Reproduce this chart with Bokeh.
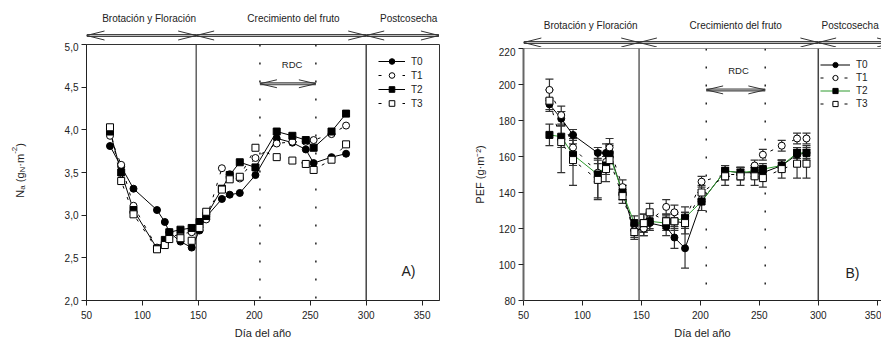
import numpy as np
from bokeh.plotting import figure
from bokeh.models import (Range1d, FixedTicker, Span, Legend, LegendItem, Whisker,
                          TeeHead, ColumnDataSource, Div)
from bokeh.layouts import row, column
from bokeh.embed import file_html
from bokeh.resources import INLINE
from bokeh.core.properties import value

FONT = "Liberation Sans"
TXT = "#222222"

# ---------------- data ----------------
day_ticks = [50, 100, 150, 200, 250, 300, 350]

phase_names = ["Brotación y Floración", "Crecimiento del fruto", "Postcosecha"]
phase_edges = [50, 148, 300, 365]
rdc_edges = [205, 255]

# panel A : Na (gN m-2)
na_days = [71, 81, 92, 113, 120, 124, 134, 144, 151, 157, 171, 178, 187, 201, 220, 234, 246, 253, 269, 282]
na_T0 = [3.81, 3.57, 3.31, 3.06, 2.92, 2.80, 2.69, 2.62, 2.82, 2.98, 3.19, 3.24, 3.26, 3.47, 3.90, 3.85, 3.77, 3.61, 3.68, 3.72]
na_T1 = [3.93, 3.59, 3.11, 2.62, 2.67, 2.74, 2.78, 2.80, 2.86, 2.95, 3.55, 3.48, 3.43, 3.67, 3.84, 3.86, 3.86, 3.88, 3.95, 4.05]
na_T2 = [3.98, 3.50, 3.06, 2.61, 2.71, 2.80, 2.83, 2.85, 2.92, 2.99, 3.31, 3.47, 3.62, 3.56, 3.98, 3.93, 3.88, 3.79, 3.98, 4.19]
na_T3 = [4.03, 3.40, 3.01, 2.60, 2.65, 2.72, 2.73, 2.70, 2.85, 3.04, 3.30, 3.42, 3.45, 3.79, 3.68, 3.64, 3.60, 3.53, 3.65, 3.83]
na_yticks = [2.0, 2.5, 3.0, 3.5, 4.0, 4.5, 5.0]
na_ylabels = ["2,0", "2,5", "3,0", "3,5", "4,0", "4,5", "5,0"]

# panel B : PEF (g m-2) with error bars
pef_days = [72, 82, 92, 113, 120, 123, 134, 144, 152, 157, 171, 178, 187, 201, 221, 234, 246, 253, 269, 282, 290]
pef_T0 = [189, 181, 172, 162, 162, 162, 140, 119, 120, 123, 121, 115, 109, 135, 152, 151, 151, 151, 155, 161, 162]
pef_T0_err = [3, 4, 3, 3, 5, 5, 4, 3, 4, 4, 5, 6, 11, 5, 3, 3, 3, 3, 3, 4, 4]
pef_T1 = [197, 183, 165, 151, 157, 165, 143, 119, 120, 124, 132, 129, 125, 146, 150, 150, 155, 161, 166, 170, 170]
pef_T1_err = [6, 5, 5, 5, 5, 5, 4, 4, 4, 4, 4, 4, 4, 3, 3, 3, 3, 3, 3, 3, 3]
pef_T2 = [172, 171, 161, 150, 155, 161, 140, 123, 123, 124, 123, 124, 126, 135, 152, 151, 152, 153, 155, 162, 162]
pef_T2_err = [6, 6, 6, 13, 5, 5, 4, 4, 5, 5, 4, 4, 6, 5, 3, 3, 3, 3, 3, 3, 3]
pef_T3 = [191, 168, 158, 147, 153, 158, 138, 118, 123, 129, 124, 124, 123, 140, 149, 149, 149, 148, 153, 156, 156]
pef_T3_err = [6, 17, 14, 11, 7, 5, 4, 4, 5, 5, 4, 5, 6, 4, 5, 5, 5, 5, 5, 8, 8]
pef_yticks = [80, 100, 120, 140, 160, 180, 200, 220]

series_names = ["T0", "T1", "T2", "T3"]

# ---------------- layout constants ----------------
H = 341
L_W, L_BL, L_BR = 440, 56, 31
R_W, R_BL, R_BR = 411, 50, 0
L_FW = L_W - L_BL - L_BR
R_FW = R_W - R_BL - R_BR
L_X = Range1d(50, 365.5)
R_X = Range1d(50, 50 + R_FW / 1.189)
L_PXX = L_FW / (365.5 - 50)
R_PXX = 1.189


def double_arrow(p, x0, x1, y, pxx, pxy, head_px=18, half_px=4.5, lw=3):
    p.segment(x0=[x0], y0=[y], x1=[x1], y1=[y], line_color="#444444", line_width=lw)
    p.segment(x0=[x0], y0=[y], x1=[x1], y1=[y], line_color="#bbbbbb", line_width=1)
    hl = head_px / pxx
    hh = half_px / pxy
    xs = [[x0 + hl, x0, x0 + hl], [x1 - hl, x1, x1 - hl]]
    ys = [[y + hh, y, y - hh], [y + hh, y, y - hh]]
    p.multi_line(xs=xs, ys=ys, line_color="#333333", line_width=1)


def strip(width, height, bl, br, xr, arrow_y, label_y, label_x, pxx):
    s = figure(width=width, height=height, x_range=xr, y_range=Range1d(0, height),
               title=None,
               min_border_left=bl, min_border_right=br, min_border_top=0, min_border_bottom=0,
               x_axis_type=None, y_axis_type=None, output_backend="svg",
               toolbar_location=None, outline_line_color=None)
    for a, b in zip(phase_edges[:-1], phase_edges[1:]):
        double_arrow(s, a, b, arrow_y, pxx, 1.0)
    s.text(x=label_x, y=[label_y] * len(label_x), text=phase_names,
           text_font=value(FONT), text_font_size="10px", text_color=TXT,
           text_align="center", text_baseline="middle")
    return s


def style(p, yticks, ylabels=None):
    p.xgrid.visible = False
    p.ygrid.visible = False
    for ax in p.axis:
        ax.major_tick_out = 5
        ax.major_tick_in = 0
        ax.minor_tick_out = 0
        ax.minor_tick_in = 0
        ax.major_label_text_font = FONT
        ax.major_label_text_font_size = "10px"
        ax.major_label_text_color = TXT
        ax.axis_line_color = "#222222"
        ax.major_tick_line_color = "#222222"
        ax.axis_label_text_font = FONT
        ax.axis_label_text_font_size = "11px"
        ax.axis_label_text_font_style = "normal"
        ax.axis_label_text_color = TXT
    p.xaxis.ticker = FixedTicker(ticks=day_ticks)
    p.xaxis.major_label_standoff = 5
    p.xaxis.axis_label_standoff = 5
    p.xaxis.axis_label = "Día del año"
    p.yaxis.ticker = FixedTicker(ticks=yticks)
    p.yaxis.major_label_standoff = 3
    if ylabels is not None:
        p.yaxis.major_label_overrides = {float(t): s for t, s in zip(yticks, ylabels)}


def phase_lines(p):
    p.add_layout(Span(location=phase_edges[1], dimension="height", line_color="#111111",
                      line_width=1, level="underlay"))
    p.add_layout(Span(location=phase_edges[2], dimension="height", line_color="#444444",
                      line_width=1.5, level="underlay"))
    for r in rdc_edges:
        p.add_layout(Span(location=r, dimension="height", line_color="#222222",
                          line_width=1.5, line_dash="2 16", level="underlay"))


def add_series(p, x, ys, line_colors):
    markers = ["circle", "circle", "square", "square"]
    fills = ["black", "white", "black", "white"]
    dashes = ["solid", "3 9", "solid", "3 9"]
    lines = []
    for y, lc, d in zip(ys, line_colors, dashes):
        lines.append(p.line(x, y, line_color=lc, line_width=1, line_dash=d))
    scs = []
    for y, m, f in zip(ys, markers, fills):
        scs.append(p.scatter(x, y, marker=m, size=7, fill_color=f, line_color="black", line_width=1))
    return [LegendItem(label=n, renderers=[l, s]) for n, l, s in zip(series_names, lines, scs)]


def legend(items, loc, gw, gh):
    return Legend(items=items, location=loc, glyph_width=gw, glyph_height=gh, label_height=gh,
                  spacing=0, padding=0, margin=0, label_standoff=6,
                  border_line_color=None, background_fill_alpha=0,
                  label_text_font=FONT, label_text_font_size="10px", label_text_color=TXT)


# ---------------- panel A ----------------
pa = figure(width=L_W, height=299, x_range=L_X, y_range=Range1d(2.0, 5.0), title=None,
            min_border_left=L_BL, min_border_right=L_BR, min_border_top=2, min_border_bottom=39,
            output_backend="svg", toolbar_location=None, outline_line_color="#333333")
style(pa, na_yticks, na_ylabels)
phase_lines(pa)
itemsA = add_series(pa, na_days, [na_T0, na_T1, na_T2, na_T3], ["black"] * 4)
pa.add_layout(legend(itemsA, (292, 190), 27, 14))
double_arrow(pa, rdc_edges[0], rdc_edges[1], 4.54, L_PXX, 86.0, head_px=17, half_px=4)
pa.text(x=[233.8], y=[4.76], text=["RDC"], text_font=value(FONT), text_font_size="9.5px",
        text_color=TXT, text_align="center", text_baseline="middle")
pa.text(x=[337.7], y=[2.34], text=["A)"], text_font=value(FONT), text_font_size="14px",
        text_color=TXT, text_align="center", text_baseline="middle")

sa = strip(L_W, 42, L_BL, L_BR, L_X, 7, 24, [106, 235, 338], L_PXX)

# ---------------- panel B ----------------
pb = figure(width=R_W, height=294, x_range=R_X, y_range=Range1d(80, 220), title=None,
            min_border_left=R_BL, min_border_right=R_BR, min_border_top=1, min_border_bottom=39,
            output_backend="svg", toolbar_location=None, outline_line_color=None)
style(pb, pef_yticks)
pb.yaxis.axis_label = "PEF (g·m⁻²)"
pb.yaxis.axis_label_standoff = 10
pb.yaxis.axis_line_color = "#666666"
pb.yaxis.axis_line_width = 2
pb.add_layout(Span(location=220, dimension="width", line_color="#333333", line_width=1))
phase_lines(pb)
for vals, errs in [(pef_T0, pef_T0_err), (pef_T1, pef_T1_err), (pef_T2, pef_T2_err), (pef_T3, pef_T3_err)]:
    v = np.array(vals, dtype=float)
    e = np.array(errs, dtype=float)
    src = ColumnDataSource(dict(x=pef_days, upper=v + e, lower=v - e))
    pb.add_layout(Whisker(source=src, base="x", upper="upper", lower="lower",
                          line_color="#333333", line_width=1.2,
                          upper_head=TeeHead(size=8, line_color="#333333", line_width=1.2),
                          lower_head=TeeHead(size=8, line_color="#333333", line_width=1.2)))
itemsB = add_series(pb, pef_days, [pef_T0, pef_T1, pef_T2, pef_T3],
                    ["black", "black", "#2e9a2e", "black"])
pb.add_layout(legend(itemsB, (297, 190), 30, 13))
double_arrow(pb, rdc_edges[0], rdc_edges[1], 197, R_PXX, 254 / 140, head_px=17, half_px=4)
pb.text(x=[232.3], y=[208], text=["RDC"], text_font=value(FONT), text_font_size="9.5px",
        text_color=TXT, text_align="center", text_baseline="middle")
pb.text(x=[329], y=[95.4], text=["B)"], text_font=value(FONT), text_font_size="14px",
        text_color=TXT, text_align="center", text_baseline="middle")

sb = strip(R_W, 47, R_BL, R_BR, R_X, 5, 22, [107, 230, 327], R_PXX)

# ---------------- y label of panel A (sub/superscripts) ----------------
ylab = Div(text=('<div style="width:30px;height:341px;display:flex;align-items:center;'
                 'justify-content:center;box-sizing:border-box;padding-left:7px;">'
                 '<span style="writing-mode:vertical-rl;'
                 'transform:rotate(180deg);font-family:\'Liberation Sans\';font-size:11px;'
                 'color:#222;white-space:nowrap;">N<sub style="font-size:8px">a</sub> '
                 '(g<sub style="font-size:8px">N</sub>·m<sup style="font-size:8px">-2</sup>)'
                 '</span></div>'),
           width=30, height=H, margin=0)

layout = row(ylab, column(sa, pa, spacing=0), column(sb, pb, spacing=0), spacing=0)
open("out.html", "w").write(file_html(layout, INLINE))
